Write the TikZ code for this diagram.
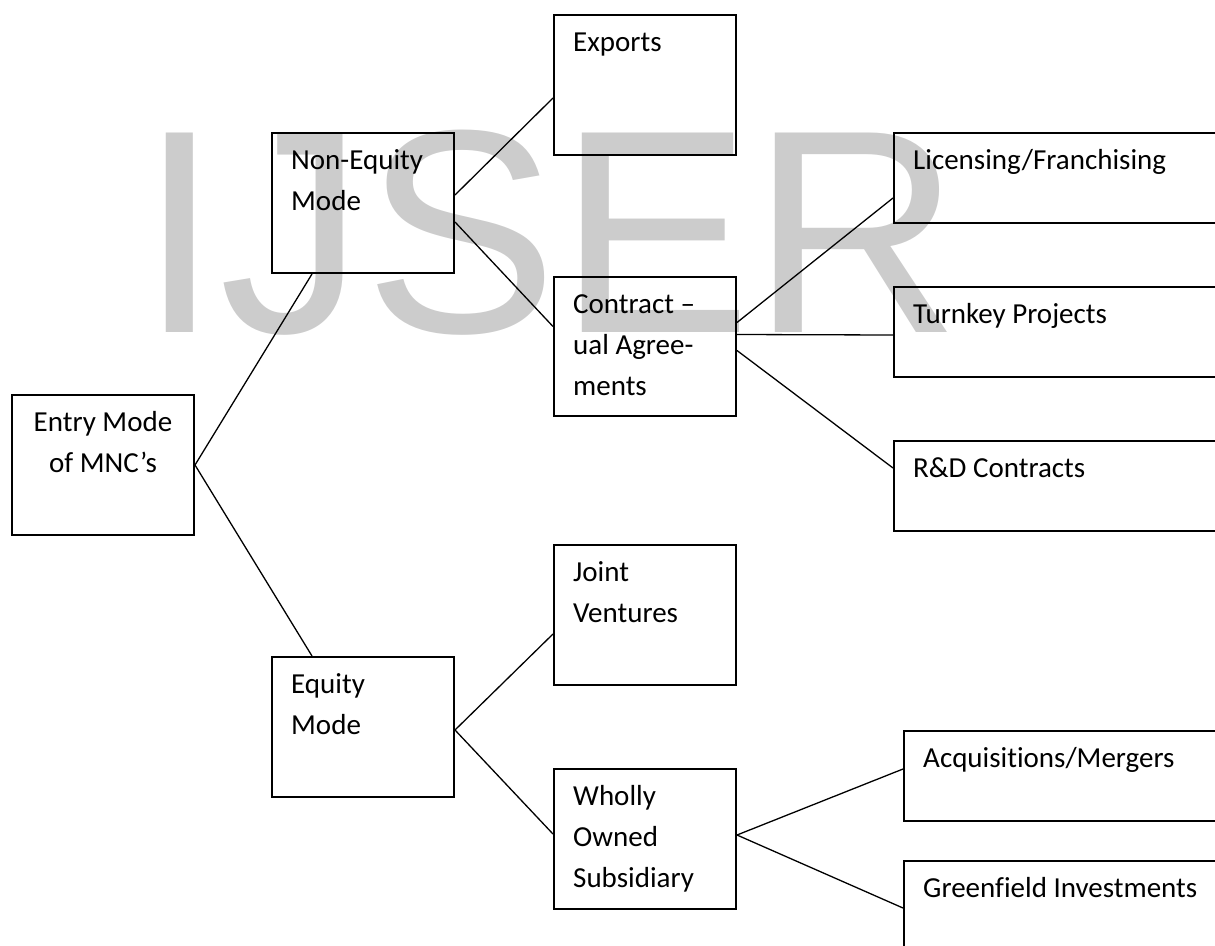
\documentclass[tikz,border=0pt]{standalone}
\usepackage{fontspec}
\setmainfont{Carlito}[Ligatures=NoCommon]
\newfontfamily\markfont{Liberation Sans}
\usepackage{tikz}
\usetikzlibrary{positioning}
\newcommand\boxfont{\fontsize{29}{41}\selectfont}
\tikzset{x=1pt,y=-1pt,
         mode/.style={draw, line width=2pt, anchor=north west, inner sep=0pt,
                      minimum width=182pt, minimum height=140pt},
         wide/.style={mode, minimum width=360pt, minimum height=90pt},
         txt/.style={anchor=north west, inner sep=0pt, align=left, font=\boxfont,
                     xshift=20pt, yshift=-9pt},
         ctr/.style={anchor=north, inner sep=0pt, align=center, font=\boxfont,
                     yshift=-9pt},
         every edge/.style={draw, line width=1.3pt}}
\begin{document}
\begin{tikzpicture}
  \useasboundingbox (0,0) rectangle (1215,945);
  \node[anchor=base west, inner sep=0pt, text=black!20,
        font=\markfont\fontsize{290}{290}\selectfont] (mark) at (139,332) {IJSER};
  \node[mode, label={[ctr]north:{\strut Entry Mode\\of MNC’s}}] (entry) at (11,394) {};
  \node[mode, label={[txt]north west:{\strut Non-Equity\\Mode}}] (noneq) at (271,132) {};
  \node[mode, label={[txt]north west:{\strut Equity\\Mode}}] (equity) at (271,656) {};
  \node[mode, label={[txt]north west:\strut Exports}] (exports) at (553,14) {};
  \node[mode, minimum height=139pt,
        label={[txt]north west:{\strut Contract –\\ual Agree-\\ments}}] (contract) at (553,276) {};
  \node[mode, label={[txt]north west:{\strut Joint\\Ventures}}] (joint) at (553,544) {};
  \node[mode, label={[txt]north west:{\strut Wholly\\Owned\\Subsidiary}}] (wholly) at (553,768) {};
  \node[wide, label={[txt]north west:\strut Licensing/Franchising}] (licen) at (893,132) {};
  \node[wide, label={[txt]north west:\strut Turnkey Projects}] (turnkey) at (893,286) {};
  \node[wide, label={[txt]north west:\strut R\&D Contracts}] (rnd) at (893,440) {};
  \node[wide, label={[txt]north west:\strut Acquisitions/Mergers}] (acq) at (903,730) {};
  \node[wide, label={[txt]north west:\strut Greenfield Investments}] (green) at (903,860) {};

  \path (entry.east) edge ([xshift=41pt]noneq.south west)
        (entry.east) edge ([xshift=41pt]equity.north west)
        ([yshift=8pt]noneq.east) edge ([yshift=-13pt]exports.west)
        ([yshift=-19pt]noneq.east) edge ([yshift=20pt]contract.west)
        ([yshift=24pt]contract.east) edge ([yshift=-20pt]licen.west)
        ([yshift=12pt]contract.east) edge ([yshift=-3pt]turnkey.west)
        ([yshift=-4pt]contract.east) edge ([yshift=18pt]rnd.west)
        ([yshift=-3pt]equity.east) edge ([yshift=-19pt]joint.west)
        ([yshift=-3pt]equity.east) edge ([yshift=5pt]wholly.west)
        ([yshift=4pt]wholly.east) edge ([yshift=7pt]acq.west)
        ([yshift=4pt]wholly.east) edge ([yshift=-2pt]green.west);
\end{tikzpicture}
\end{document}
